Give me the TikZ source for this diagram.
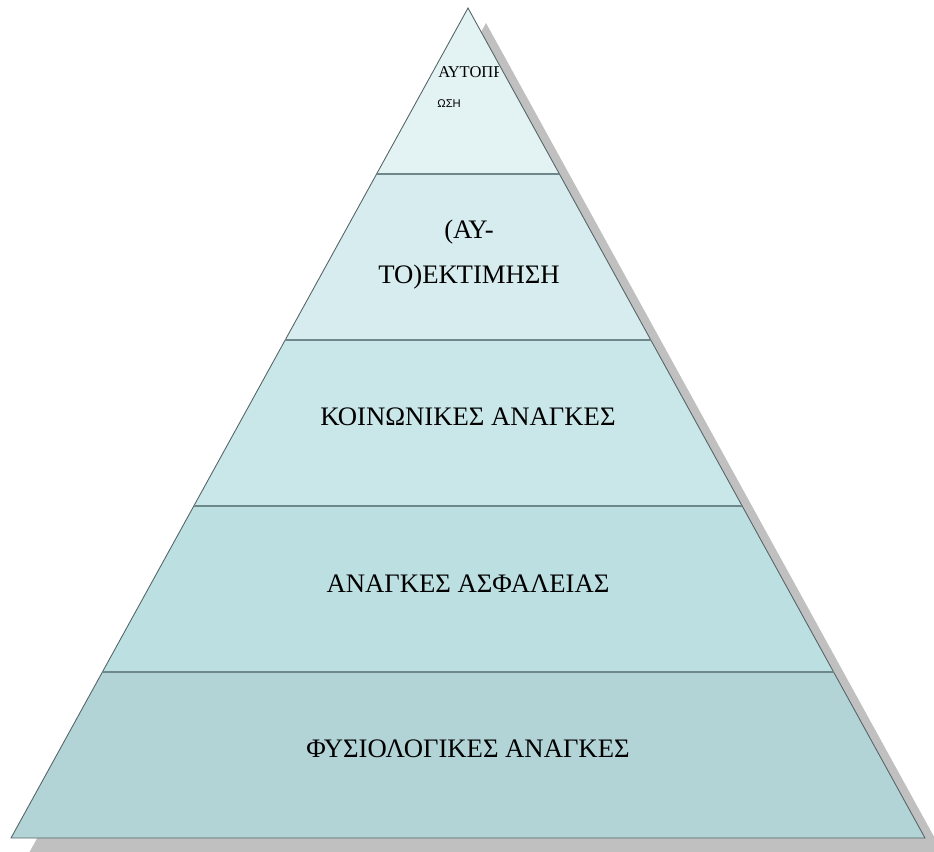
\documentclass[tikz,border=0pt]{standalone}
\usepackage{fontspec}
\setmainfont{Liberation Serif}
\newfontfamily\grsans{Liberation Sans}
\usepackage{tikz}
\usetikzlibrary{calc}
\definecolor{bandone}{RGB}{227, 243, 244}
\definecolor{bandtwo}{RGB}{215, 236, 239}
\definecolor{bandthree}{RGB}{201, 230, 233}
\definecolor{bandfour}{RGB}{188, 223, 226}
\definecolor{bandfive}{RGB}{178, 212, 215}
\definecolor{divline}{RGB}{110, 135, 138}
\definecolor{edgeline}{RGB}{85, 100, 102}
\definecolor{shadowgray}{RGB}{192, 192, 192}
\tikzstyle{level} = [font=\fontsize{15.2}{25.6}\selectfont, align=center, inner sep=0pt]
\tikzstyle{divider} = [draw=divline, line width=1.1pt]

\begin{document}
\begin{tikzpicture}[x=0.02cm, y=-0.02cm]
    \useasboundingbox (0,0) rectangle (934,852);
    \clip (0,0) rectangle (934,852);

    % Corners of the pyramid
    \coordinate (apex) at (468,8);
    \coordinate (bl) at (11,838);
    \coordinate (br) at (925,838);
    \foreach \k in {1,...,4} {
        \coordinate (l\k) at ($(apex)!\k/5!(bl)$);
        \coordinate (r\k) at ($(apex)!\k/5!(br)$);
    }

    % Shadow
    \fill[shadowgray] ($(apex)+(18,15)$) -- ($(br)+(18,15)$) -- ($(bl)+(18,15)$) -- cycle;

    % Levels
    \fill[bandone] (apex) -- (r1) -- (l1) -- cycle;
    \fill[bandtwo] (l1) -- (r1) -- (r2) -- (l2) -- cycle;
    \fill[bandthree] (l2) -- (r2) -- (r3) -- (l3) -- cycle;
    \fill[bandfour] (l3) -- (r3) -- (r4) -- (l4) -- cycle;
    \fill[bandfive] (l4) -- (r4) -- (br) -- (bl) -- cycle;

    % Outline and dividers
    \draw[edgeline, line width=0.5pt] (apex) -- (br) -- (bl) -- cycle;
    \foreach \k in {1,...,4}
        \draw[divider] (l\k) -- (r\k);

    % Top level, cut off
    \begin{scope}
        \clip (430,50) rectangle (498,90);
        \node[anchor=base west, inner sep=0pt, font=\fontsize{9.4}{11}\selectfont] (selfact) at (438,77) {ΑΥΤΟΠΡ};
    \end{scope}
    \node[anchor=base west, inner sep=0pt, font=\grsans\fontsize{6.4}{8}\selectfont] (selfactend) at (437,107) {ΩΣΗ};

    % Other levels
    \node[level, anchor=base] (esteem) at (469,283) {(ΑΥ-\\ΤΟ)ΕΚΤΙΜΗΣΗ};
    \node[level, anchor=base] (social) at (468,425) {ΚΟΙΝΩΝΙΚΕΣ ΑΝΑΓΚΕΣ};
    \node[level, anchor=base] (safety) at (468,592) {ΑΝΑΓΚΕΣ ΑΣΦΑΛΕΙΑΣ};
    \node[level, anchor=base] (physio) at (468,757) {ΦΥΣΙΟΛΟΓΙΚΕΣ ΑΝΑΓΚΕΣ};
\end{tikzpicture}
\end{document}
